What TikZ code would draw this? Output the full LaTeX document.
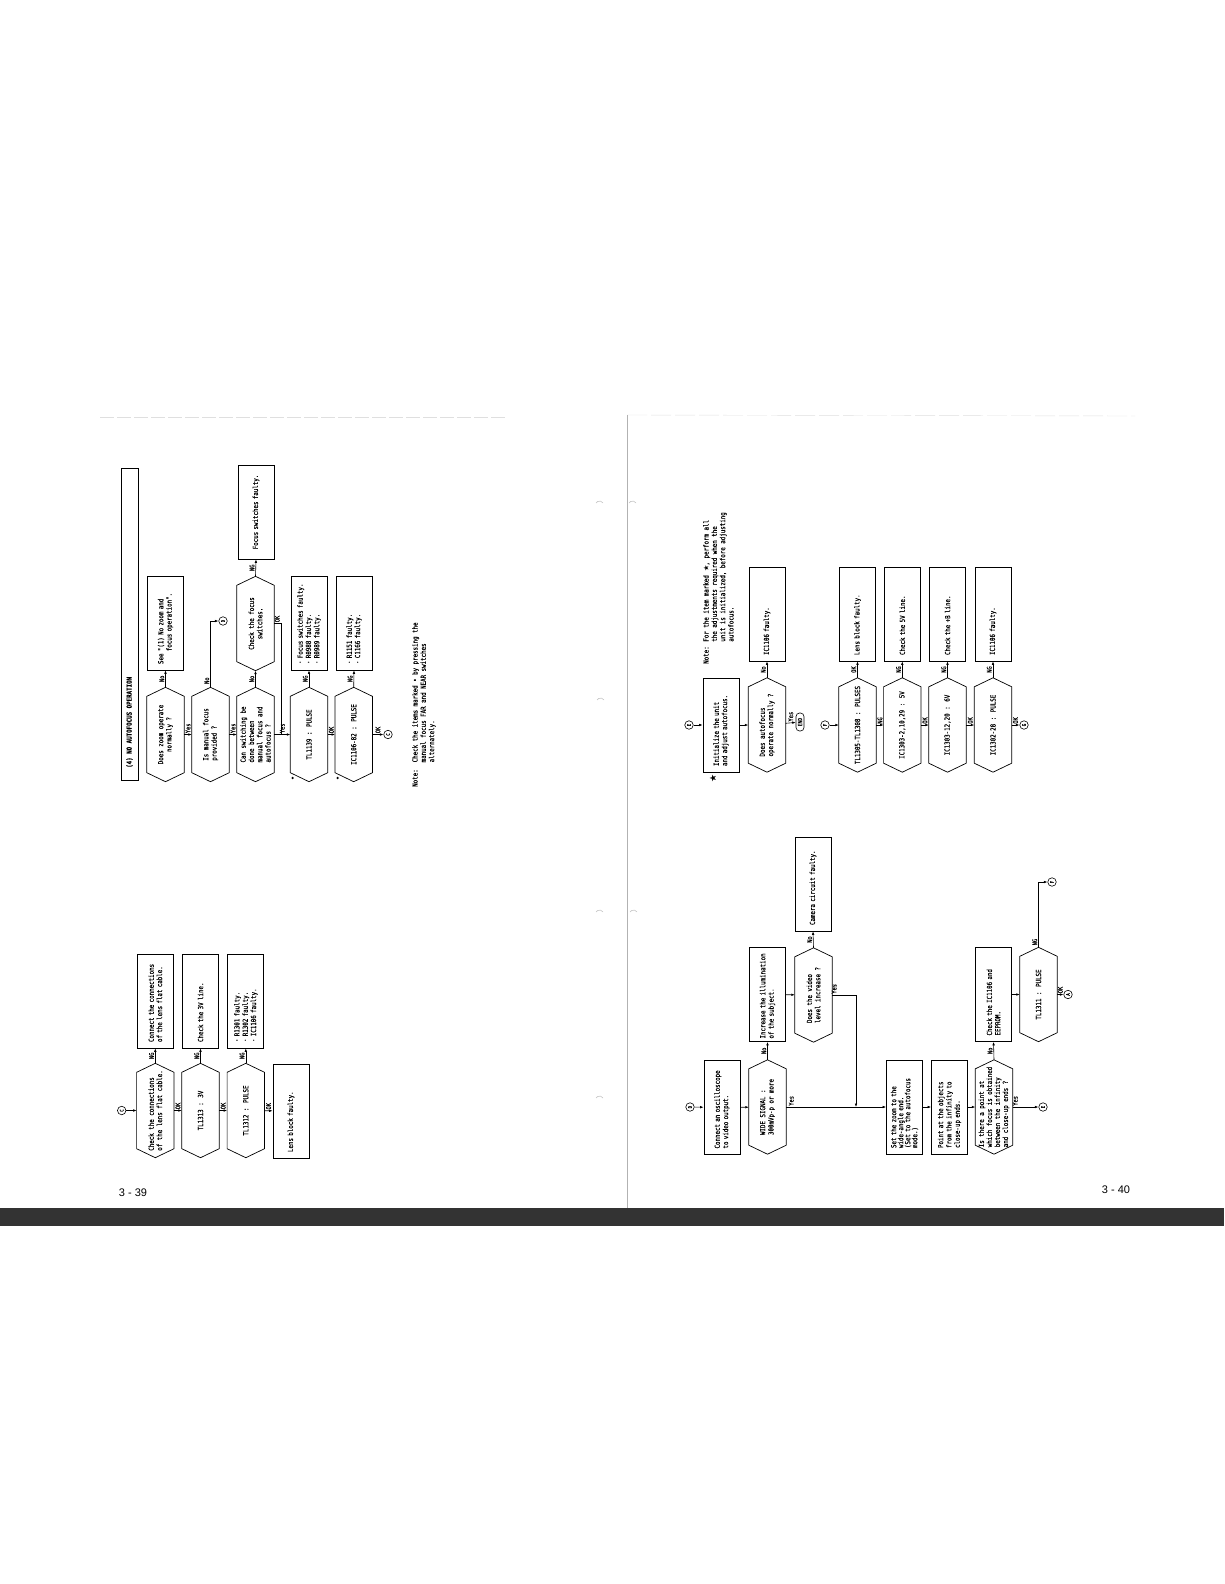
\documentclass[tikz,border=0pt]{standalone}
\usepackage{fontspec}
\usetikzlibrary{arrows.meta}
\newfontfamily\scanfont[FakeStretch=0.83, FakeBold=0.35]{DejaVu Sans Mono}
\newfontfamily\symfont{DejaVu Sans}
\newfontfamily\pagefont{Liberation Sans}
\newcommand\boxfont{\scanfont\fontsize{7}{8.3}\selectfont}
\newcommand\lblfont{\scanfont\fontsize{6.5}{7}\selectfont}

% hexagon outline round a decision node
\newcommand\hexa[1]{\draw[hexline] (#1.west) -- ([xshift=9pt]#1.north west) -- ([xshift=-9pt]#1.north east) -- (#1.east) -- ([xshift=-9pt]#1.south east) -- ([xshift=9pt]#1.south west) -- cycle;}

\begin{document}
\begin{tikzpicture}[
    % page pixels, turned a quarter so that the text runs upwards
    x={(0pt,-1pt)}, y={(-1pt,0pt)}, rotate=90, transform shape,
    decision/.style={minimum width=94pt, minimum height=37pt, inner sep=0pt, font=\boxfont, align=left},
    process/.style={draw, line width=0.7pt, minimum width=94pt, minimum height=36pt, text width=82pt, inner xsep=6pt, inner ysep=0pt, font=\boxfont, align=left},
    hexline/.style={line width=0.7pt},
    flow/.style={line width=0.6pt, -{Latex[length=3.5pt,width=2.6pt]}},
    joinline/.style={line width=0.6pt},
    lbl/.style={font=\lblfont, inner sep=1pt},
    conn/.style={circle, draw, line width=0.6pt, minimum size=8.5pt, inner sep=0pt, font=\scanfont\fontsize{5}{5}\selectfont},
    endbox/.style={draw, line width=0.6pt, rounded corners=3.5pt, minimum width=18pt, minimum height=8pt, inner sep=0.5pt, font=\scanfont\fontsize{5.5}{6}\selectfont},
    dotmark/.style={circle, fill, inner sep=0.9pt},
    notetext/.style={font=\boxfont, align=left, inner sep=0pt},
    pagenum/.style={font=\pagefont\fontsize{11}{12}\selectfont, rotate=-90},
    scanmark/.style={gray!45, line width=0.6pt}
]
\useasboundingbox (0,0) rectangle (1224,1584);

% ---------------------------------------------------------
% 1. PAGE (edges, divider, numbers, scan marks)
% ---------------------------------------------------------
\draw[gray!25, line width=0.4pt, dash pattern=on 14pt off 3pt] (100,417) -- (505,417);
\draw[gray!25, line width=0.4pt, dash pattern=on 20pt off 4pt] (627,415) -- (1135,416);
\draw[gray!60, line width=0.6pt] (627,415) -- (627,1208);
\fill[black!80] (0,1208) rectangle (1224,1226);
\node[pagenum] (p39) at (133,1193) {3 - 39};
\node[pagenum] (p40) at (1116,1190) {3 - 40};
\draw[scanmark] (603,503) arc (-60:60:4pt);
\draw[scanmark] (636,503) arc (-60:60:4pt);
\draw[scanmark] (604,700) arc (-60:60:4pt);
\draw[scanmark] (603,912) arc (-60:60:4pt);
\draw[scanmark] (637,912) arc (-60:60:4pt);
\draw[scanmark] (603,1098) arc (-60:60:4pt);

% ---------------------------------------------------------
% 2. PAGE 3-39, UPPER CHART
% ---------------------------------------------------------
\node[draw, line width=0.7pt, minimum width=312pt, minimum height=17pt] (title) at (129.5,624) {};
\node[font=\boxfont\bfseries, anchor=west] (titletext) at ([xshift=9pt]title.west) {(4) NO AUTOFOCUS OPERATION};

\node[decision, align=center] (zoomok) at (165.5,734.5) {Does zoom operate\\normally ?}; \hexa{zoomok}
\node[decision] (manual) at (210.5,734.5) {Is manual focus\\provided ?}; \hexa{manual}
\node[decision] (switching) at (255.5,734.5) {Can switching be\\done between\\manual focus and\\autofocus ?}; \hexa{switching}
\node[decision, align=center] (tl1139) at (309,734.5) {TL1139 : PULSE}; \hexa{tl1139}
\node[decision, align=center] (ic82) at (353.7,734.5) {IC1106-82 : PULSE}; \hexa{ic82}
\node[conn] (cC) at (388,734.5) {C};

\node[process] (seezoom) at (165.5,623) {See "(1) No zoom and\\\phantom{See }focus operation".};
\node[conn] (cD) at (223,621) {D};
\node[decision, align=center] (focussw) at (255.5,623.5) {Check the focus\\switches.}; \hexa{focussw}
\node[process, align=center] (swfaulty) at (256,512) {Focus switches faulty.};
\node[process] (r0988) at (309,623) {· Focus switches faulty.\\· R0988 faulty.\\· R0989 faulty.};
\node[process] (r1151) at (354,623) {· R1151 faulty.\\· C1166 faulty.};
\node[dotmark] (mk1) at (292.7,778) {};
\node[dotmark] (mk2) at (337.7,778) {};
\coordinate (j1) at (281,734.5);

\draw[flow] (zoomok) -- node[lbl, right] {Yes} (manual);
\draw[flow] (manual) -- node[lbl, right] {Yes} (switching);
\draw[flow] (switching) -- node[lbl, right] {Yes} (tl1139);
\draw[flow] (tl1139) -- node[lbl, right] {OK} (ic82);
\draw[flow] (ic82) -- node[lbl, right] {OK} (cC);
\draw[flow] (zoomok.east) -- node[lbl, above] {No} (seezoom.west);
\draw[flow] (manual.east) -| node[lbl, above, pos=0.05] {No} (cD);
\draw[flow] (switching.east) -- node[lbl, above] {No} (focussw.west);
\draw[flow] (focussw.east) -- node[lbl, above] {NG} (swfaulty.west);
\draw[joinline] (focussw.south) |- node[lbl, above right, pos=0.5] {OK} (j1);
\draw[flow] (tl1139.east) -- node[lbl, above] {NG} (r0988.west);
\draw[flow] (ic82.east) -- node[lbl, above] {NG} (r1151.west);

\node[notetext, anchor=north west] (note1) at (412,787) {Note:\ \ Check the items marked • by pressing the\\\phantom{Note:\ \ }manual focus FAR and NEAR switches\\\phantom{Note:\ \ }alternately.};

% ---------------------------------------------------------
% 3. PAGE 3-39, LOWER CHART
% ---------------------------------------------------------
\node[conn] (cC2) at (121.7,1110.5) {C};
\node[decision] (flatcable) at (155.3,1110.5) {Check the connections\\of the lens flat cable.}; \hexa{flatcable}
\node[process] (connect) at (155.3,1001) {Connect the connections\\of the lens flat cable.};
\node[decision, align=center] (tl1313) at (200.5,1110.5) {TL1313 : 3V}; \hexa{tl1313}
\node[process] (line3v) at (200.5,1001) {Check the 3V line.};
\node[decision, align=center] (tl1312) at (245.8,1110.5) {TL1312 : PULSE}; \hexa{tl1312}
\node[process] (r1301) at (245.8,1001) {· R1301 faulty.\\· R1302 faulty.\\· IC1106 faulty.};
\node[process] (lensblk) at (291,1111) {Lens block faulty.};

\draw[flow] (cC2) -- (flatcable);
\draw[flow] (flatcable.east) -- node[lbl, above] {NG} (connect.west);
\draw[flow] (flatcable) -- node[lbl, right] {OK} (tl1313);
\draw[flow] (tl1313.east) -- node[lbl, above] {NG} (line3v.west);
\draw[flow] (tl1313) -- node[lbl, right] {OK} (tl1312);
\draw[flow] (tl1312.east) -- node[lbl, above] {NG} (r1301.west);
\draw[flow] (tl1312) -- node[lbl, right] {OK} (lensblk);

% ---------------------------------------------------------
% 4. PAGE 3-40, UPPER CHART
% ---------------------------------------------------------
\node[notetext, anchor=north west] (note2) at (703,664) {Note: For the item marked {\symfont ★}, perform all\\\phantom{Note: }the adjustments required when the\\\phantom{Note: }unit is initialized, before adjusting\\\phantom{Note: }autofocus.};

\node[conn] (cE) at (689,725) {E};
\node[process] (init) at (721,725) {Initialize the unit\\and adjust autofocus.};
\node[font=\symfont\fontsize{9}{9}\selectfont, inner sep=0pt] (starmark) at (713,778) {★};
\node[decision] (afok) at (767,725) {Does autofocus\\operate normally ?}; \hexa{afok}
\node[process] (ic1106a) at (767,614) {IC1106 faulty.};
\node[endbox] (endnode) at (800,722) {END};

\draw[flow] (cE) -- (init);
\draw[flow] (init) -- (afok);
\draw[flow] (afok.east) -- node[lbl, above] {No} (ic1106a.west);
\draw[flow] (afok) -- node[lbl, right] {Yes} (endnode);

\node[conn] (cF) at (825,725) {F};
\node[decision, align=center] (tl1305) at (857.5,725) {TL1305-TL1308 : PULSES}; \hexa{tl1305}
\node[process] (lensblk2) at (857.5,614) {Lens block faulty.};
\node[decision, align=center] (ic5v) at (902.3,725) {IC1303-2,10,29 : 5V}; \hexa{ic5v}
\node[process] (line5v) at (902.3,614) {Check the 5V line.};
\node[decision, align=center] (ic6v) at (947.5,725) {IC1303-12,20 : 6V}; \hexa{ic6v}
\node[process] (lineb) at (947.5,614) {Check the +B line.};
\node[decision, align=center] (ic28) at (993,725) {IC1302-28 : PULSE}; \hexa{ic28}
\node[process] (ic1106b) at (993,614) {IC1106 faulty.};
\node[conn] (cG) at (1024,725) {G};

\draw[flow] (cF) -- (tl1305);
\draw[flow] (tl1305.east) -- node[lbl, above] {OK} (lensblk2.west);
\draw[flow] (tl1305) -- node[lbl, right] {NG} (ic5v);
\draw[flow] (ic5v.east) -- node[lbl, above] {NG} (line5v.west);
\draw[flow] (ic5v) -- node[lbl, right] {OK} (ic6v);
\draw[flow] (ic6v.east) -- node[lbl, above] {NG} (lineb.west);
\draw[flow] (ic6v) -- node[lbl, right] {OK} (ic28);
\draw[flow] (ic28.east) -- node[lbl, above] {NG} (ic1106b.west);
\draw[flow] (ic28) -- node[lbl, right] {OK} (cG);

% ---------------------------------------------------------
% 5. PAGE 3-40, LOWER CHART
% ---------------------------------------------------------
\node[conn] (cD2) at (690,1107) {D};
\node[process] (scope) at (722,1107.5) {Connect an oscilloscope\\to video output.};
\node[decision] (wide) at (767.5,1107) {WIDE SIGNAL :\\300mVp-p or more}; \hexa{wide}
\node[process, text width=88pt, inner xsep=3pt] (illum) at (767.5,994.5) {Increase the illumination\\of the subject.};
\node[decision] (vidlevel) at (813.5,995) {Does the video\\level increase ?}; \hexa{vidlevel}
\node[process] (camera) at (813,884) {Camera circuit faulty.};
\coordinate (j2) at (856,1107);
\node[process, font=\scanfont\fontsize{7}{7}\selectfont] (setzoom) at (904.5,1107) {Set the zoom to the\\wide-angle end.\\(Set to the autofocus\\mode.)};
\node[process] (pointat) at (949.5,1107) {Point at the objects\\from the infinity to\\close-up ends.};
\node[decision, font=\scanfont\fontsize{7}{8}\selectfont] (ispoint) at (994,1107) {Is there a point at\\which focus is obtained\\between the infinity\\and close-up ends ?}; \hexa{ispoint}
\node[process] (eeprom) at (993.5,994.5) {Check the IC1106 and\\EEPROM.};
\node[decision, align=center] (tl1311) at (1038.5,994.5) {TL1311 : PULSE}; \hexa{tl1311}
\node[conn] (cF2) at (1052,882) {F};
\node[conn] (cA) at (1068,994.5) {A};
\node[conn] (cE2) at (1043,1107) {E};

\draw[flow] (cD2) -- (scope);
\draw[flow] (scope) -- (wide);
\draw[flow] (wide.east) -- node[lbl, above] {No} (illum.west);
\draw[flow] (illum) -- (vidlevel);
\draw[flow] (vidlevel.east) -- node[lbl, above] {No} (camera.west);
\draw[flow] (vidlevel.south) |- node[lbl, right, pos=0.04] {Yes} (j2);
\draw[flow] (wide) -- node[lbl, right, pos=0.05] {Yes} (setzoom);
\draw[flow] (setzoom) -- (pointat);
\draw[flow] (pointat) -- (ispoint);
\draw[flow] (ispoint.east) -- node[lbl, above] {No} (eeprom.west);
\draw[flow] (eeprom) -- (tl1311);
\draw[flow] (tl1311.east) -| node[lbl, above, pos=0.04] {NG} (cF2);
\draw[flow] (tl1311) -- node[lbl, right] {OK} (cA);
\draw[flow] (ispoint) -- node[lbl, right, pos=0.1] {Yes} (cE2);

\end{tikzpicture}
\end{document}
